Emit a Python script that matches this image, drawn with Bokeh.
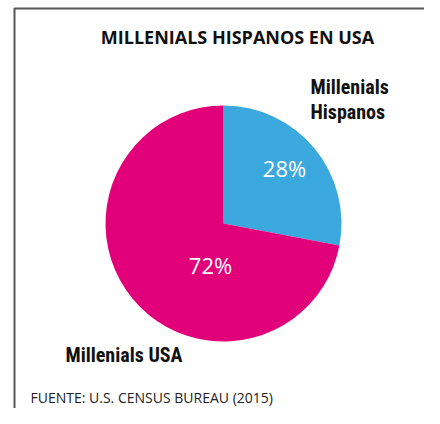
import numpy as np
from bokeh.plotting import figure
from bokeh.models import ColumnDataSource
from bokeh.core.properties import value
from bokeh.embed import file_html
from bokeh.resources import INLINE

title = "MILLENIALS HISPANOS EN USA"
categories = ["Millenials Hispanos", "Millenials USA"]
category_labels = ["Millenials\nHispanos", "Millenials USA"]
values = [28, 72]
pct_labels = ["28%", "72%"]
colors = ["#3BA9DD", "#E2007A"]
source_note = "FUENTE: U.S. CENSUS BUREAU (2015)"

W, H = 424, 408
p = figure(width=W, height=H, x_range=(0, W), y_range=(0, H),
           output_backend="svg", toolbar_location=None, min_border=0)
p.axis.visible = False
p.grid.visible = False
p.outline_line_color = None
p.background_fill_color = "white"
p.border_fill_color = "white"

# frame
p.line(x=[14, 14, 440], y=[-20, 400, 400], line_color="#555555", line_width=2)

# pie
cx, cy, r = 223, 185, 118
vals = np.array(values, dtype=float)
frac = vals / vals.sum()
ends = np.pi / 2 - 2 * np.pi * np.cumsum(frac)
starts = np.concatenate([[np.pi / 2], ends[:-1]])
src = ColumnDataSource(dict(start=starts, end=ends, color=colors, cat=categories))
p.wedge(x=cx, y=cy, radius=r, radius_units="screen", start_angle="start",
        end_angle="end", direction="clock", fill_color="color", line_color=None,
        source=src)

# percent labels
p.text(x=[284, 210], y=[241, 144], text=pct_labels, text_color="white",
       text_font=value("Open Sans"), text_font_size="22px",
       text_align="center", text_baseline="middle")

# title
p.text(x=[237], y=[372], text=[title], text_font=value("Open Sans"),
       text_font_style="bold", text_font_size="18px", text_color="#111111",
       text_align="center", text_baseline="alphabetic")

# category labels
cond = value("Roboto Condensed, DejaVu Sans Condensed, sans-serif")
p.text(x=[310], y=[334], text=[category_labels[0]], text_font=cond,
       text_font_style="bold", text_font_size="20px", text_color="#111111",
       text_align="left", text_baseline="top", text_line_height=1.05)
p.text(x=[65], y=[54], text=[category_labels[1]], text_font=cond,
       text_font_style="bold", text_font_size="20px", text_color="#111111",
       text_align="left", text_baseline="alphabetic")

# source
p.text(x=[30], y=[11], text=[source_note], text_font=value("Open Sans"),
       text_font_size="14px", text_color="#222222",
       text_align="left", text_baseline="alphabetic")

open("out.html", "w").write(file_html(p, INLINE))
